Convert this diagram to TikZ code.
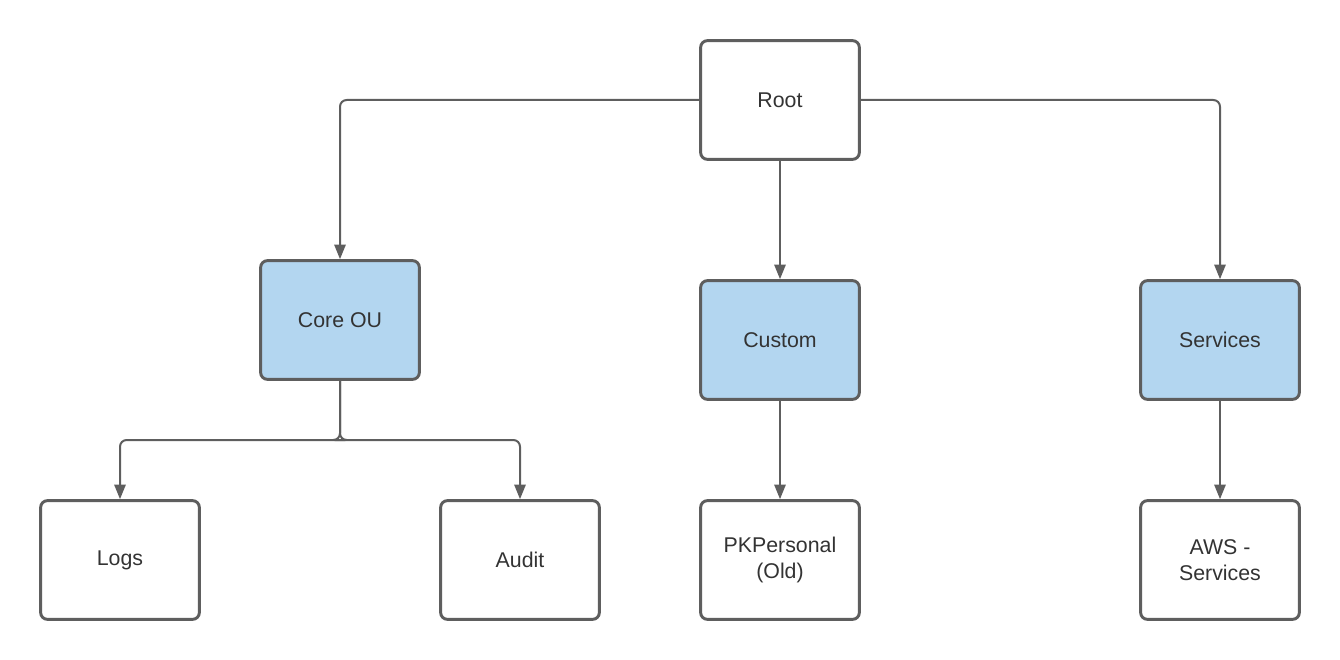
\documentclass[tikz,border=0pt]{standalone}
\usepackage{fontspec}
\setmainfont{Liberation Sans}
\usetikzlibrary{arrows.meta}
\definecolor{edgegray}{HTML}{5E5E5E}
\definecolor{boxblue}{HTML}{B3D6F0}
\definecolor{txt}{HTML}{333333}
\begin{document}
\begin{tikzpicture}[x=0.75pt,y=-0.75pt,
  box/.style={draw=edgegray,line width=2.2pt,rounded corners=5pt,fill=white,
    minimum width=119pt,minimum height=89pt,inner sep=0pt,
    align=center,text=txt,font=\fontsize{16}{19.5}\selectfont},
  ou/.style={box,fill=boxblue},
  conn/.style={draw=edgegray,line width=1.5pt,rounded corners=5pt,
    -{Triangle[length=11pt,width=8.5pt]}}]
\useasboundingbox (0,0) rectangle (1340,660);
\node[box] (root) at (780,100) {Root};
\node[ou] (core) at (340,320) {Core OU};
\node[ou] (custom) at (780,340) {Custom};
\node[ou] (services) at (1220,340) {Services};
\node[box] (logs) at (120,560) {Logs};
\node[box] (audit) at (520,560) {Audit};
\node[box] (pk) at (780,560) {PKPersonal\\(Old)};
\node[box] (aws) at (1220,560) {AWS -\\Services};
\coordinate (split) at (340,440);
\draw[conn] (root.west) -| (core.north);
\draw[conn] (root.east) -| (services.north);
\draw[conn] (root.south) -- (custom.north);
\draw[conn] (core.south) |- ([xshift=-1]split) -| (logs.north);
\draw[conn] (core.south) |- ([xshift=1]split) -| (audit.north);
\draw[conn] (custom.south) -- (pk.north);
\draw[conn] (services.south) -- (aws.north);
\end{tikzpicture}
\end{document}
